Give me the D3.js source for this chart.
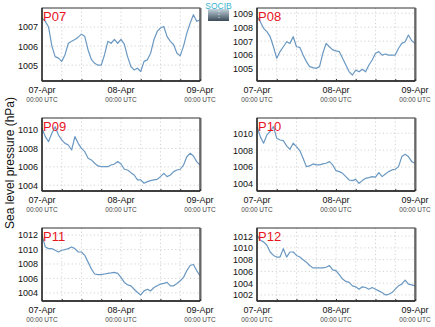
<!DOCTYPE html>
<html><head><meta charset="utf-8">
<script src="https://cdn.jsdelivr.net/npm/d3@7"></script>
<style>body{margin:0;background:#fff}svg{display:block}</style>
</head><body>
<script>
const stations = ["P07","P08","P09","P10","P11","P12"];
const hours = d3.range(0, 49);
const xTickLabels = ["07-Apr","08-Apr","09-Apr"];
const xSubLabel = "00:00 UTC";
const yTitle = "Sea level pressure (hPa)";
const p07 = [1007.47,1007.3,1007.0,1006.0,1005.45,1005.37,1005.2,1005.55,1006.15,1006.25,1006.35,1006.47,1006.63,1006.5,1005.8,1005.3,1005.1,1005.0,1005.0,1005.55,1006.25,1006.15,1006.35,1006.15,1006.35,1006.1,1005.45,1004.93,1004.75,1004.84,1004.67,1005.2,1005.28,1005.63,1006.33,1006.77,1006.95,1007.03,1006.5,1006.25,1006.07,1005.63,1005.5,1006.0,1006.68,1007.2,1007.65,1007.3,1007.38];
const p08 = [1008.76,1008.4,1007.92,1007.68,1007.32,1006.6,1005.77,1006.25,1006.6,1006.96,1006.84,1007.32,1006.6,1006.56,1006.0,1005.53,1005.17,1005.1,1005.05,1005.17,1006.13,1006.84,1006.6,1006.37,1006.3,1006.25,1005.77,1005.29,1004.8,1004.57,1004.93,1004.8,1004.98,1004.8,1005.29,1005.65,1006.13,1006.25,1006.0,1006.08,1006.0,1006.0,1006.0,1006.49,1006.84,1006.96,1007.44,1007.03,1006.84];
const p09 = [1010.18,1009.28,1008.74,1009.64,1010.36,1009.46,1008.92,1008.55,1008.37,1007.83,1009.28,1008.55,1008.0,1007.65,1006.93,1006.75,1006.39,1006.1,1006.02,1006.02,1006.02,1006.2,1006.31,1006.57,1006.31,1005.74,1005.66,1005.37,1005.12,1004.58,1004.58,1004.22,1004.4,1004.51,1004.58,1004.65,1004.94,1005.3,1004.94,1005.12,1005.48,1005.66,1005.74,1006.2,1007.1,1007.47,1007.18,1006.57,1006.2];
const p10 = [1010.79,1009.6,1008.82,1009.8,1010.2,1010.79,1009.4,1009.2,1009.13,1008.5,1008.1,1008.82,1008.42,1007.95,1007.04,1006.05,1006.13,1006.37,1006.25,1006.25,1006.37,1006.45,1006.64,1006.25,1005.58,1005.46,1005.26,1004.87,1004.47,1004.4,1004.55,1004.08,1004.4,1004.67,1004.75,1004.87,1004.8,1005.34,1004.87,1005.18,1005.46,1005.66,1005.74,1006.05,1007.24,1007.5,1007.24,1006.64,1006.45];
const p11 = [1012.0,1010.36,1010.13,1010.13,1009.9,1009.66,1009.9,1010.0,1010.13,1010.36,1010.13,1009.66,1009.66,1009.2,1008.26,1007.32,1006.62,1006.52,1006.52,1006.62,1006.71,1006.76,1006.85,1006.71,1006.15,1005.45,1005.12,1004.98,1004.51,1004.05,1003.72,1004.28,1004.51,1004.28,1004.75,1004.98,1005.22,1005.31,1005.45,1004.98,1004.98,1005.31,1005.68,1006.15,1007.09,1007.79,1007.93,1007.09,1006.39];
const p12 = [1012.17,1011.31,1011.02,1010.45,1009.3,1008.72,1008.44,1008.44,1009.87,1008.44,1009.3,1009.3,1008.72,1008.44,1007.98,1007.57,1007.0,1006.6,1006.6,1006.6,1006.6,1006.71,1007.0,1006.25,1006.14,1005.45,1004.7,1004.3,1004.13,1003.55,1003.38,1002.98,1003.38,1003.26,1002.98,1003.26,1002.98,1002.69,1002.4,1002.0,1002.11,1002.4,1002.98,1003.55,1003.84,1004.53,1003.84,1003.72,1003.55];
const series = [p07,p08,p09,p10,p11,p12];
const yDomains = [[1004.17,1008.0],[1004.14,1009.38],[1003.38,1011.3],[1003.17,1011.8],[1002.88,1012.98],[1000.97,1013.38]];
const yTickSets = [[1005,1006,1007],[1005,1006,1007,1008,1009],[1004,1006,1008,1010],[1004,1006,1008,1010],[1004,1006,1008,1010,1012],[1002,1004,1006,1008,1010,1012]];

const W = 435, H = 327;
const svg = d3.select("body").append("svg").attr("width", W).attr("height", H)
  .style("font-family", "'Liberation Sans', Arial, sans-serif");

const colX = [42, 257], rowY = [8, 118, 228];
const pw = 158, ph = 73;

series.forEach((vals, i) => {
  const ox = colX[i % 2], oy = rowY[Math.floor(i / 2)];
  const g = svg.append("g").attr("transform", `translate(${ox},${oy})`);
  const x = d3.scaleLinear().domain([0, 48]).range([0, pw]);
  const y = d3.scaleLinear().domain(yDomains[i]).range([ph, 0]);

  g.append("g").selectAll("line").data(d3.range(6, 48, 6)).join("line")
    .attr("x1", d => x(d)).attr("x2", d => x(d)).attr("y1", 0).attr("y2", ph)
    .attr("stroke", "#c8c8c8").attr("stroke-width", 0.8).attr("stroke-dasharray", "1.2,2.5");
  g.append("g").selectAll("line").data(yTickSets[i]).join("line")
    .attr("x1", 0).attr("x2", pw).attr("y1", d => y(d)).attr("y2", d => y(d))
    .attr("stroke", "#c8c8c8").attr("stroke-width", 0.8).attr("stroke-dasharray", "1.2,2.5");

  g.append("path").datum(vals)
    .attr("fill", "none").attr("stroke", "#6a98c2").attr("stroke-width", 1.2)
    .attr("stroke-linejoin", "round")
    .attr("d", d3.line().x((d, j) => x(hours[j])).y(d => y(d)));

  g.append("rect").attr("x", 0).attr("y", 0).attr("width", pw).attr("height", ph)
    .attr("fill", "none").attr("stroke", "#333").attr("stroke-width", 1);
  g.append("line").attr("x1", pw + 0.5).attr("x2", pw + 0.5).attr("y1", 0).attr("y2", ph)
    .attr("stroke", "#666").attr("stroke-width", 2);
  g.append("line").attr("x1", 0).attr("x2", 0).attr("y1", 0).attr("y2", ph)
    .attr("stroke", "#222").attr("stroke-width", 1.3);
  g.append("line").attr("x1", 0).attr("x2", pw).attr("y1", ph).attr("y2", ph)
    .attr("stroke", "#222").attr("stroke-width", 1.3);

  const xa = d3.axisBottom(x).tickValues(d3.range(0, 49, 6)).tickSize(-2).tickFormat("");
  g.append("g").attr("transform", `translate(0,${ph})`).call(xa)
    .call(s => s.select(".domain").remove())
    .call(s => s.selectAll("line").attr("stroke", "#333"));
  [0, 24, 48].forEach((h, k) => {
    g.append("text").attr("x", x(h)).attr("y", ph + 12).attr("text-anchor", "middle")
      .attr("font-size", 9).attr("fill", "#111").text(xTickLabels[k]);
    g.append("text").attr("x", x(h)).attr("y", ph + 20.5).attr("text-anchor", "middle")
      .attr("font-size", 6.5).attr("fill", "#444").text(xSubLabel);
  });

  const ya = d3.axisLeft(y).tickValues(yTickSets[i]).tickSize(0).tickPadding(4).tickFormat(d3.format("d"));
  g.append("g").call(ya)
    .call(s => s.select(".domain").remove())
    .call(s => s.selectAll("text").attr("font-size", 9).attr("fill", "#111")
      .style("font-family", "'Liberation Sans', Arial, sans-serif"));

  g.append("text").attr("x", 1).attr("y", 13).attr("font-size", 13).attr("fill", "#e8141e")
    .text(stations[i]);
});

svg.append("text").attr("transform", "translate(14,163) rotate(-90)")
  .attr("text-anchor", "middle").attr("font-size", 12).attr("fill", "#111").text(yTitle);

const defs = svg.append("defs");
const lg = defs.append("linearGradient").attr("id", "lg").attr("x1", 0).attr("x2", 0).attr("y1", 0).attr("y2", 1);
lg.append("stop").attr("offset", "0%").attr("stop-color", "#c2d4de");
lg.append("stop").attr("offset", "100%").attr("stop-color", "#3a4a58");
svg.append("rect").attr("x", 208).attr("y", 9).attr("width", 21).attr("height", 12).attr("fill", "url(#lg)");
svg.append("text").attr("x", 218.5).attr("y", 8.5).attr("text-anchor", "middle").attr("font-size", 8.5)
  .attr("fill", "#38b4d0").text("SOCIB");
svg.append("line").attr("x1", 219).attr("x2", 219).attr("y1", 11).attr("y2", 20)
  .attr("stroke", "#fff").attr("stroke-dasharray", "1,2").attr("stroke-width", 0.8);
</script>
</body></html>
